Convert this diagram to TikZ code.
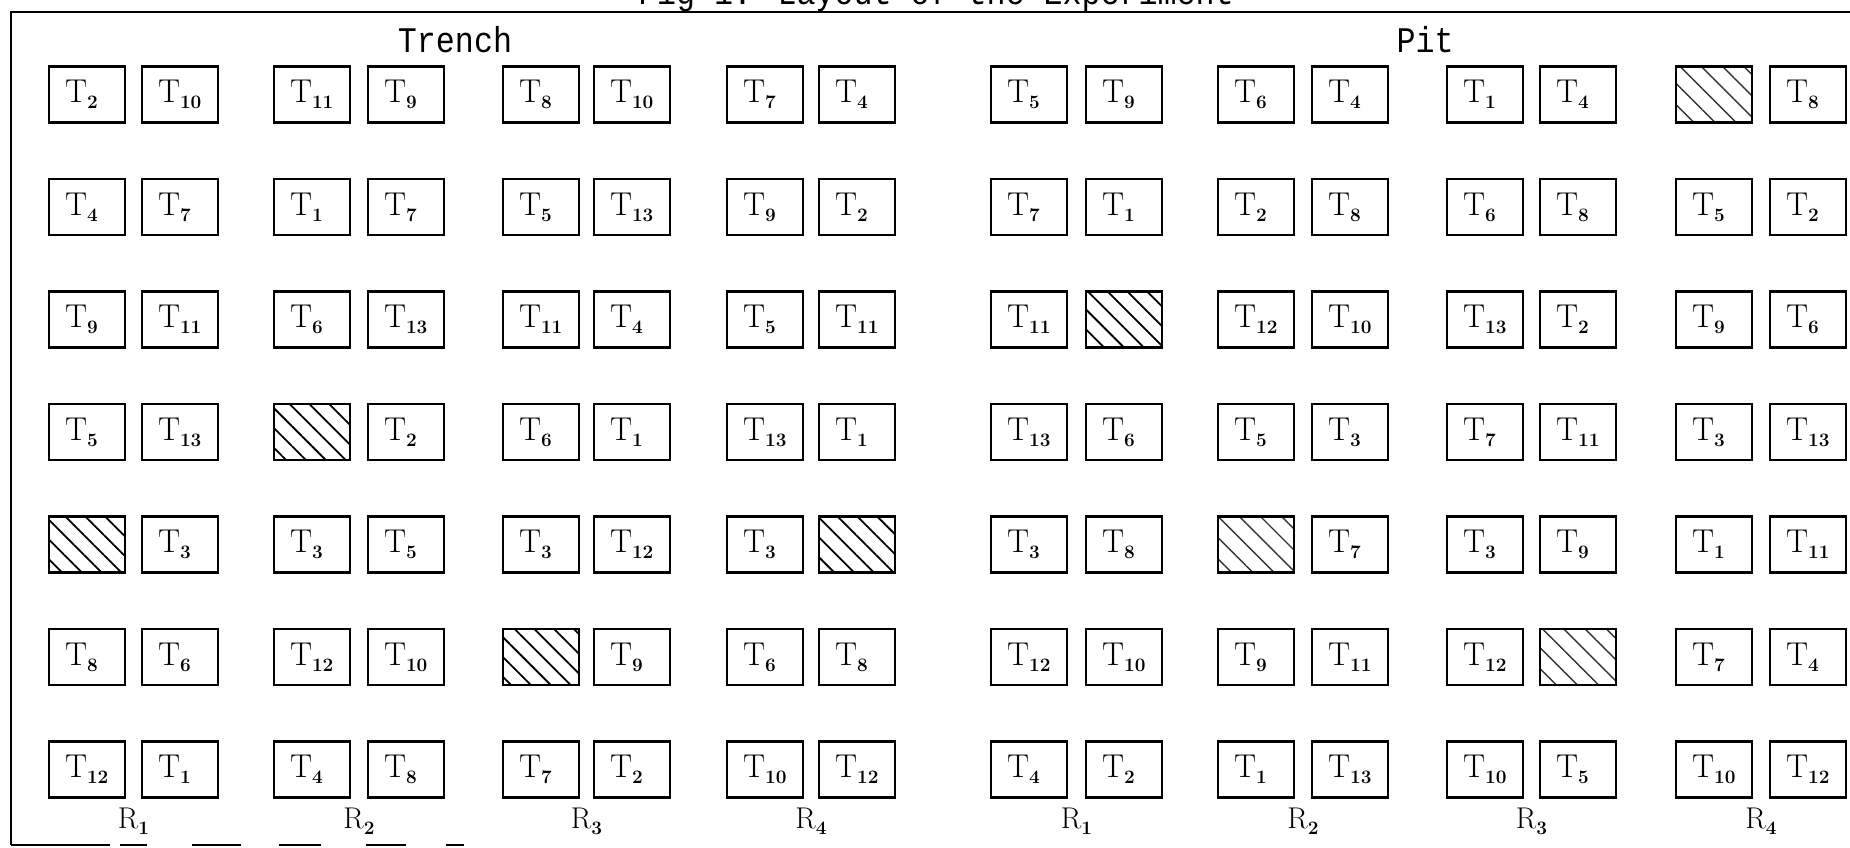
\documentclass[tikz,border=0pt]{standalone}
\usepackage{fontspec}
\newfontfamily\typewriter[FakeStretch=0.88]{Liberation Mono}
\usetikzlibrary{patterns.meta, calc}

\newcommand{\sublab}[2]{#1\raisebox{-6pt}{\fontsize{19}{19}\selectfont\bfseries #2}}

\begin{document}
\begin{tikzpicture}[
    x=1pt, y=1pt,
    plot/.style={rectangle, draw, line width=2.6pt, minimum width=76pt,
      minimum height=56pt, inner ysep=0pt, inner xsep=16pt, text width=44pt,
      align=left, font=\fontsize{33}{40}\selectfont},
    hatch/.style={pattern={Lines[angle=-45, distance=14pt, line width=1.8pt]}},
    hatchlight/.style={pattern={Lines[angle=-45, distance=15pt, line width=1.4pt]},
      pattern color=black!80},
    heading/.style={font=\typewriter\fontsize{36}{40}\selectfont, anchor=base, inner sep=0pt},
    rep/.style={font=\fontsize{30}{34}\selectfont, anchor=base, inner sep=0pt},
    frame/.style={line width=2.4pt}
]
\clip (0,0) rectangle (1850,847);

% frame
\draw[frame] (11,2) -- (11,835) -- (1850,835);
\draw[frame] (11,2) -- (110,2);
\foreach \s/\e in {120/147, 192/241, 279/321, 366/406, 446/464}
  \draw[frame] (\s,2) -- (\e,2);

% headings
\node[heading] (fig)    at (936,842) {Fig 1. Layout of the Experiment};
\node[heading] (trench) at (455,794) {Trench};
\node[heading] (pit)    at (1425,794) {Pit};

% plots: 0 = hatched, -1 = faint hatched
\foreach \cells [count=\r] in {
    {2,10,11,9,8,10,7,4,5,9,6,4,1,4,-1,8},
    {4,7,1,7,5,13,9,2,7,1,2,8,6,8,5,2},
    {9,11,6,13,11,4,5,11,11,0,12,10,13,2,9,6},
    {5,13,0,2,6,1,13,1,13,6,5,3,7,11,3,13},
    {0,3,3,5,3,12,3,0,3,8,-1,7,3,9,1,11},
    {8,6,12,10,0,9,6,8,12,10,9,11,12,-1,7,4},
    {12,1,4,8,7,2,10,12,4,2,1,13,10,5,10,12}}
{
  \foreach \lab [count=\c] in \cells {
    \pgfmathsetmacro\xx{{87,180,312,406,541,632,765,857,1029,1124,1256,1350,1485,1578,1714,1808}[\c-1]}
    \pgfmathsetmacro\yy{752.5-112.5*(\r-1)}
    \ifnum\lab>0
      \node[plot] (b\c-\r) at (\xx,\yy) {\sublab{T}{\lab}};
    \else\ifnum\lab=0
      \node[plot, hatch] (b\c-\r) at (\xx,\yy) {};
    \else
      \node[plot, hatchlight] (b\c-\r) at (\xx,\yy) {};
    \fi\fi
  }
}

% replications
\foreach \p [evaluate=\p as \pa using int(2*\p-1),
             evaluate=\p as \pb using int(2*\p),
             evaluate=\p as \pn using {int(mod(\p-1,4)+1)}] in {1,...,8}
  \node[rep] (r\p) at ($(b\pa-7.south)!0.5!(b\pb-7.south)+(0,-30)$) {\sublab{R}{\pn}};
\end{tikzpicture}
\end{document}
